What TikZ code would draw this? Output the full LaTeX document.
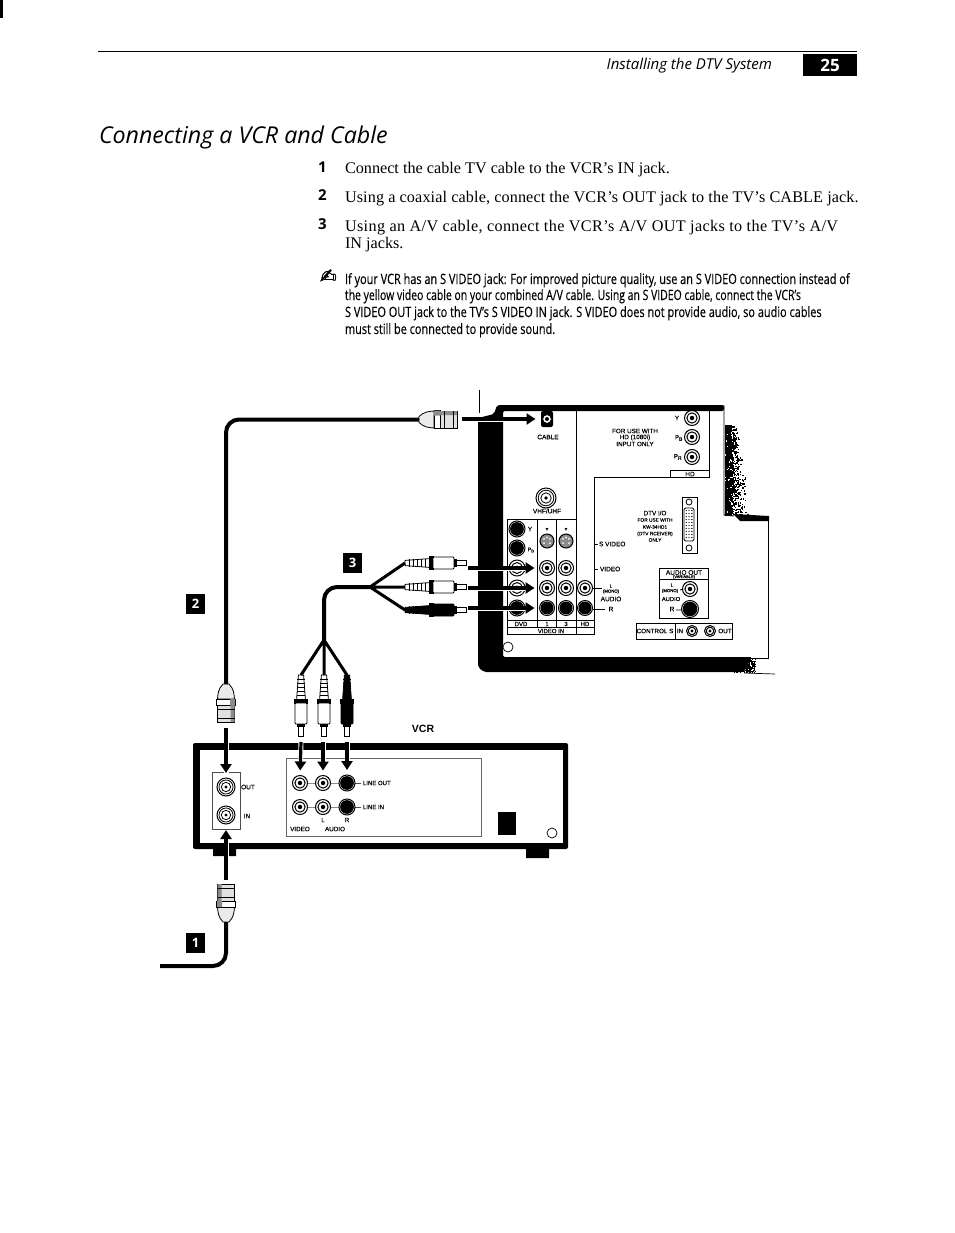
\documentclass[tikz,border=0pt]{standalone}
\usepackage{fontspec}
\setmainfont{Liberation Serif}
\newfontfamily\hs[FakeBold=0.35]{Liberation Sans}
\newfontfamily\hsb{Liberation Sans}
\newfontfamily\nt[FakeStretch=0.77,FakeBold=0.2]{Open Sans}
\newfontfamily\ntb[FakeStretch=0.735,FakeBold=0.2]{Open Sans}
\newfontfamily\hd{Open Sans}
\newfontfamily\djv{DejaVu Sans}
\newfontfamily\djb[FakeBold=1.2]{DejaVu Sans}
\usetikzlibrary{arrows.meta,calc}
\newcommand\fs[1]{\fontsize{#1}{#1}\selectfont}
\newcounter{labc}
\newcommand\lab[4]{\stepcounter{labc}\node[lbl,font=\hs\fs{#3}] (t\thelabc) at (#1,#2) {#4};}
\newcommand\labw[4]{\stepcounter{labc}\node[lbl,anchor=west,font=\hs\fs{#3}] (t\thelabc) at (#1,#2) {#4};}
\newcommand\bodyl[3]{\stepcounter{labc}\node[lbl,anchor=base west,font=\fs{16.2}] (t\thelabc) at (#1,#2) {#3};}
\newcommand\notel[3]{\stepcounter{labc}\node[lbl,anchor=base west,font=\nt\fs{14.2}] (t\thelabc) at (#1,#2) {#3};}
\newcommand\notelb[3]{\stepcounter{labc}\node[lbl,anchor=base west,font=\ntb\fs{14.2}] (t\thelabc) at (#1,#2) {#3};}
% white phono jack
\newcommand\jw[4]{\node[jk,minimum size=#4*2pt] (#1) at (#2,#3) {};
 \draw[line width=1pt] (#2,#3) circle[radius=#4*0.68pt];
 \fill (#2,#3) circle[radius=#4*0.3pt];}
% black phono jack
\newcommand\jb[4]{\node[jk,minimum size=#4*2pt] (#1) at (#2,#3) {};
 \fill (#2,#3) circle[radius=#4*0.86pt];}
% coaxial jack
\newcommand\jc[4]{\node[jk,minimum size=#4*2pt] (#1) at (#2,#3) {};
 \draw[line width=.8pt] (#2,#3) circle[radius=#4*0.78pt];
 \draw[line width=.8pt] (#2,#3) circle[radius=#4*0.52pt];
 \fill (#2,#3) circle[radius=#4*0.18pt];}
% S video jack
\newcommand\js[3]{\node[jk,minimum size=14pt,fill=black!45] (#1) at (#2,#3) {};
 \foreach \a in {35,90,145,215,325}{\fill[white] ($(#2,#3)+(\a:3.6pt)$) circle[radius=1pt];}}
% RCA plug, axis along local x, 61 long
\newcommand\rca[5]{\begin{scope}[shift={(#1,#2)},rotate=#3]
 \coordinate (#5) at (0,0);
 \draw[fill=white,line width=.7pt] (50,-2.5) rectangle (61,2.5);
 \draw[fill=#4,line width=.8pt] (0,-2.6) -- (26,-4.5) -- (26,4.5) -- (0,2.6) -- cycle;
 \foreach \k in {4,8,...,24}{\draw[line width=1pt] (\k,-4) -- (\k,4);}
 \draw[fill=black,line width=.7pt] (24,-6.5) rectangle (28,6.5);
 \draw[fill=#4,line width=.8pt,rounded corners=1pt] (28,-6) rectangle (49,6);
 \fill[black] (49,-4) rectangle (52,4);
 \end{scope}}
% coaxial plug, axis along local x, 38 long
\newcommand\coax[4]{\begin{scope}[shift={(#1,#2)},rotate=#3]
 \coordinate (#4) at (0,0);
 \draw[line width=.8pt,fill=black!8] (0,-3) .. controls (5,-8) and (10,-8) .. (15,-8.5) -- (15,8.5) .. controls (10,8) and (5,8) .. (0,3) -- cycle;
 \draw[line width=.9pt,fill=white] (15,-9.3) rectangle (21,9.3);
 \draw[line width=.8pt,fill=black!12] (21,-8.5) rectangle (38,8.5);
 \fill[black!45] (15,-9) rectangle (21,-4) (21,-8.5) rectangle (38,-4.5);
 \draw[line width=1pt] (25,-8.5) -- (25,8.5) (34,-8.5) -- (34,8.5);
 \end{scope}}
\tikzset{
 lbl/.style={inner sep=0pt,outer sep=0pt,text=black},
 jk/.style={circle,draw=black,fill=white,line width=1pt,inner sep=0pt,outer sep=0pt},
 cable/.style={line width=4pt,rounded corners=13pt,line cap=butt},
 wire/.style={line width=3pt},
 arr/.style={line width=3.2pt,-{Triangle[length=9pt,width=11pt]},shorten >=5pt,preaction={draw=white,line width=5pt,-{}}},
 frame/.style={line width=.8pt},
 badge/.style={fill=black,text=white,font=\hd\bfseries\fs{13},minimum width=19pt,minimum height=20pt,inner sep=0pt},
}
\begin{document}
\begin{tikzpicture}[x=1pt,y=-1pt]
\useasboundingbox (0,0) rectangle (954,1233);
\fill[white] (0,0) rectangle (954,1233);
\fill (0,0) rectangle (3,18);
% ---------- header
\draw[line width=.8pt] (98,51) -- (857,51);
\node[fill=black,text=white,font=\hd\bfseries\fs{17},minimum width=54pt,minimum height=22pt,inner sep=0pt] (pg) at (830,65) {25};
\node[lbl,anchor=base east,font=\hd\itshape\fs{15}] (hdr) at (772,70) {Installing the DTV System};
\node[lbl,anchor=base west,font=\hd\itshape\fs{23.2}] (title) at (99,144) {Connecting a VCR and Cable};
% ---------- steps
\node[lbl,anchor=base west,font=\hd\bfseries\fs{15}] (n1) at (318,173) {1};
\node[lbl,anchor=base west,font=\hd\bfseries\fs{15}] (n2) at (318,201) {2};
\node[lbl,anchor=base west,font=\hd\bfseries\fs{15}] (n3) at (318,230) {3};
\bodyl{345}{174}{Connect the cable TV cable to the VCR’s IN jack.}
\bodyl{345}{203}{\addfontfeature{LetterSpace=.7}Using a coaxial cable, connect the VCR’s OUT jack to the TV’s CABLE jack.}
\bodyl{345}{232}{\addfontfeature{LetterSpace=2.2}Using an A/V cable, connect the VCR’s A/V OUT jacks to the TV’s A/V}
\bodyl{345}{248}{IN jacks.}
\node[lbl,anchor=base west,font=\djb\fs{20}] (pen) at (320,283) {✍};
\notel{345}{284}{If your VCR has an S VIDEO jack: For improved picture quality, use an S VIDEO connection instead of}
\notelb{345}{300}{the yellow video cable on your combined A/V cable. Using an S VIDEO cable, connect the VCR’s}
\notel{345}{317}{S VIDEO OUT jack to the TV’s S VIDEO IN jack. S VIDEO does not provide audio, so audio cables}
\notel{345}{334}{must still be connected to provide sound.}
% ---------- TV panel
\draw[line width=.7pt] (479,390) -- (479,413);
\fill[rounded corners=2pt] (497,405) -- (724,405) -- (724,411) -- (503,411) -- (503,657) -- (752,657) -- (744,672) -- (484,672) -- (478,667) -- (478,418) -- (494,414) -- cycle;
\fill (733,514) -- (769,516) -- (769,521) -- (740,521) -- cycle;
\draw[line width=.9pt] (724,405) -- (724,515) -- (734,516);
\draw[line width=.9pt] (768,521) -- (768,658) -- (740,658);
\draw[line width=.7pt] (744,673) -- (775,674);
\pgfmathsetseed{7}
\foreach \i in {1,...,1500}{
 \pgfmathsetmacro\py{425+90*rnd}
 \pgfmathsetmacro\spread{12+14*(\py-425)/90}
 \pgfmathsetmacro\px{725+\spread*rnd*rnd}
 \fill (\px,\py) rectangle ++(1.3,1.3);}
\foreach \i in {1,...,250}{
 \pgfmathsetmacro\px{733+22*rnd}
 \pgfmathsetmacro\py{659+13*rnd}
 \fill (\px,\py) rectangle ++(1.2,1.2);}
\draw[fill=white,line width=.7pt] (508,647) circle[radius=5pt];
% panel rules
\draw[frame] (576,411) -- (576,634);
\draw[frame] (709,411) -- (709,477) -- (594,477) -- (594,634) -- (507,634) -- (507,519) -- (576,519);
\draw[frame] (670,470) -- (709,470) (670,470) -- (670,477);
\draw[frame] (537,519) -- (537,627) (556,519) -- (556,627);
\draw[frame] (507,620) -- (594,620) (507,627) -- (594,627);
\lab{690}{474}{6.5}{HD}
\lab{521}{624}{6}{DVD}\lab{547}{624}{6}{1}\lab{566}{624}{6}{3}\lab{585}{624}{6}{HD}
\lab{551}{631}{6}{VIDEO IN}
% cable jack
\fill[rounded corners=2pt] (541,411) rectangle (553,427);
\node[jk,minimum size=9pt] (cj) at (547,419) {};
\fill (547,419) circle[radius=2pt];
\lab{548}{437}{6.5}{CABLE}
\jc{vhf}{546}{498}{10}
\lab{547}{511}{6.5}{VHF/UHF}
\lab{635}{431}{6.3}{FOR USE WITH}\lab{635}{437.5}{6.3}{HD (1080i)}\lab{635}{444}{6.3}{INPUT ONLY}
\jw{hy}{692}{418}{7.5}\jw{hb}{692}{437}{7.5}\jw{hr}{692}{457}{7.5}
\lab{677}{418}{6.5}{Y}\lab{679}{438}{6}{P\textsubscript{B}}\lab{678}{457}{6}{P\textsubscript{R}}
% DVI
\draw[frame] (682,497) rectangle (697,553);
\draw[frame] (689,502) circle[radius=3pt] (689,548) circle[radius=3pt];
\draw[frame,rounded corners=1.5pt] (684,508) rectangle (694,541);
\foreach \r in {0,...,9}{\foreach \c in {0,1,2}{\fill (686.2+\c*2.8,510.5+\r*3) circle[radius=.7pt];}}
\lab{655}{513}{6.3}{DTV I/O}\lab{655}{520}{4.8}{FOR USE WITH}\lab{655}{527}{4.8}{KW-34HD1}\lab{655}{534}{4.8}{(DTV RCEIVER)}\lab{655}{540}{4.8}{ONLY}
% video-in jacks
\jb{dy}{517}{529}{8}\jb{dp}{517}{548}{8}\jw{d1}{517}{568}{8}\jw{d2}{517}{588}{8}\jb{d3}{517}{608}{8}
\lab{530}{529}{6.5}{Y}\lab{531}{550}{5.5}{P\textsubscript{B}}
\node[lbl,font=\djv\fs{6}] (ta) at (547,530) {▾};
\node[lbl,font=\djv\fs{6}] (tb) at (566,530) {▾};
\js{s1}{547}{541}\js{s3}{566}{541}
\jw{a1}{547}{568}{7.5}\jw{a3}{566}{568}{7.5}
\jw{b1}{547}{588}{7.5}\jw{b3}{566}{588}{7.5}\jw{b4}{585}{588}{7.5}
\jb{c1}{547}{608}{7.5}\jb{c3}{566}{608}{7.5}\jb{c4}{585}{608}{7.5}
% side labels
\draw[frame] (594,544) -- (598,544) (594,569) -- (598,569) (593,588) -- (602,588) (593,609) -- (605,609);
\labw{599}{544}{6.5}{S VIDEO}\labw{600}{569}{6.5}{VIDEO}
\lab{611}{586}{5}{L}\lab{611}{591.5}{4.3}{(MONO)}\lab{611}{599}{6.5}{AUDIO}\lab{611}{609}{6.5}{R}
% audio out
\draw[frame] (659,568) rectangle (708,618) (659,579) -- (708,579);
\lab{684}{572.5}{6.5}{AUDIO OUT}\lab{684}{577}{4}{(VARIABLE)}
\jw{ol}{690}{589}{7.5}\jb{or}{690}{609}{8.5}
\lab{672}{585}{5}{L}\lab{670}{591}{4.3}{(MONO)}\lab{671}{599}{5.8}{AUDIO}\lab{672}{609}{6.5}{R}
\draw[frame] (680,590) -- (683,589) (676,610) -- (682,610);
% control s
\draw[frame] (636,623) rectangle (732,639) (675,623) -- (675,639);
\lab{655}{631}{6.3}{CONTROL S}\lab{680}{631}{6.3}{IN}\lab{725}{631}{6.3}{OUT}
\jw{ci}{692}{631}{5.5}\jw{co}{710}{631}{5.5}
% ---------- arrows to TV
\coordinate (a0) at (462,419);
\coordinate (a1s) at (468,568);\coordinate (a2s) at (468,588);\coordinate (a3s) at (468,608);
\draw[arr,shorten >=7pt] (a0) -- (cj.west);
\draw[arr] (a1s) -- (a1.west);
\draw[arr] (a2s) -- (b1.west);
\draw[arr] (a3s) -- (c1.west);
% ---------- VCR
\fill[rounded corners=2pt] (193,743) rectangle (568,849);
\fill[white] (200,750) rectangle (563,843);
\fill (213,849) rectangle (236,856) (526,849) rectangle (549,858);
\draw[frame,draw=black!70] (212,772) rectangle (240,829);
\jc{vo}{226}{787}{9}\jc{vi}{226}{815}{9}
\lab{248}{787}{6.5}{OUT}\lab{247}{816}{6.5}{IN}
\draw[line width=.8pt,draw=black!60] (286,758) rectangle (481,836);
\draw[frame,draw=black!70] (300,783) -- (347,783) -- (361,783) (300,807) -- (347,807) -- (361,807);
\jw{lo1}{300}{783}{7.5}\jw{lo2}{323}{783}{7.5}\jb{lo3}{347}{783}{8}
\jw{li1}{300}{807}{7.5}\jw{li2}{323}{807}{7.5}\jb{li3}{347}{807}{8}
\labw{363}{783}{6}{LINE OUT}\labw{363}{807}{6}{LINE IN}
\lab{323}{820}{6}{L}\lab{347}{820}{6}{R}\lab{300}{829}{6.3}{VIDEO}\lab{335}{829}{6.3}{AUDIO}
\fill (498,812) rectangle (516,835);
\draw[line width=.7pt] (552,833) circle[radius=5pt];
\node[lbl,font=\hsb\bfseries\fs{10.5}] (vcr) at (423,729) {VCR};
% ---------- plugs
\rca{405}{563}{0}{white}{p1}
\rca{405}{587}{0}{white}{p2}
\rca{405}{610}{0}{black}{p3}
\rca{301}{675}{-90}{white}{q1}
\rca{324}{675}{-90}{white}{q2}
\rca{347}{675}{-90}{black}{q3}
\coax{419}{419.5}{0}{ct}
\coax{226}{684}{-90}{cb}
\coax{226}{922}{90}{cc}
% ---------- cables
\coordinate (f1) at (370,587);\coordinate (f2) at (324,640);\coordinate (cabend) at (160,966);
\draw[cable] (ct) -- (226,419.5) -- (cb);
\draw[cable] (f1) -- (324,587) -- (f2);
\draw[wire] (f1) -- (p1) (f1) -- (p2) (f1) -- (p3);
\draw[wire] (f2) -- (q1) (f2) -- (q2) (f2) -- (q3);
\draw[cable] (cc) -- (226,966) -- (cabend);
% ---------- arrows at VCR
\coordinate (u0) at (226,728);\coordinate (u1) at (301,742);\coordinate (u2) at (323,742);\coordinate (u3) at (347,742);\coordinate (u4) at (226,880);
\draw[arr] (u0) -- (vo.north);
\draw[arr] (u1) -- (lo1.north);
\draw[arr] (u2) -- (lo2.north);
\draw[arr] (u3) -- (lo3.north);
\draw[arr,shorten >=6pt] (u4) -- (vi.south);
% ---------- badges
\node[badge] (b1t) at (195.5,943) {1};
\node[badge] (b2t) at (195.5,604) {2};
\node[badge] (b3t) at (352.5,563) {3};
\end{tikzpicture}
\end{document}
